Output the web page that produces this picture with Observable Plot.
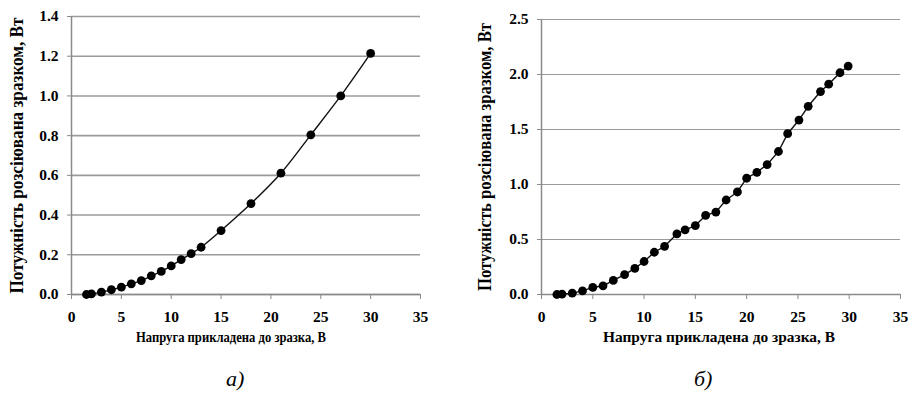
<!DOCTYPE html>
<html>
<head>
<meta charset="utf-8">
<script src="https://cdn.jsdelivr.net/npm/d3@7"></script>
<script src="https://cdn.jsdelivr.net/npm/@observablehq/plot@0.6"></script>
<style>
  html, body { margin: 0; padding: 0; background: #fff; }
  #wrap { position: relative; width: 911px; height: 405px; overflow: hidden; }
  .panel { position: absolute; top: 0; }
  .panel svg, .panel svg text {
    font-family: "Liberation Serif", "Times New Roman", serif !important;
    font-weight: bold;
  }
  .panel svg g[aria-label$="tick label"],
  .panel svg g[aria-label$="tick label"] text {
    font-size: 15.5px !important;
  }
  .caption {
    position: absolute; top: 366px;
    font-family: "Liberation Serif", "DejaVu Serif", serif;
    font-style: italic; font-size: 22px; color: #000;
  }
</style>
</head>
<body>
<div id="wrap">
  <div class="panel" id="panelA" style="left:0px"></div>
  <div class="panel" id="panelB" style="left:450px"></div>
  <div class="caption" style="left:226px">а)</div>
  <div class="caption" style="left:694px">б)</div>
</div>
<script>
// Shared axis ticks
const xTicks = [0, 5, 10, 15, 20, 25, 30, 35];
const yTicksA = [0, 0.2, 0.4, 0.6, 0.8, 1.0, 1.2, 1.4];
const yTicksB = [0, 0.5, 1.0, 1.5, 2.0, 2.5];

// Texts
const xTitle = "Напруга прикладена до зразка, В";
const yTitle = "Потужність розсіювана зразком, Вт";

// Sample (а): applied voltage, V and dissipated power, W
const voltageA = [1.5, 2, 3, 4, 5, 6, 7, 8, 9, 10, 11, 12, 13, 15, 18, 21, 24, 27, 30];
const powerA   = [0.0, 0.003, 0.012, 0.024, 0.037, 0.054, 0.070, 0.094, 0.116, 0.144,
                  0.176, 0.206, 0.238, 0.322, 0.458, 0.611, 0.804, 1.0, 1.214];

// Sample (б)
const voltageB = [1.5, 2, 3, 4, 5, 6, 7, 8.1, 9.1, 10, 11, 12, 13.2, 14, 15, 16, 17, 18, 19.1,
                  20, 21, 22, 23.1, 24, 25.1, 26, 27.2, 28, 29.1, 29.9];
const powerB   = [0.0, 0.003, 0.012, 0.033, 0.064, 0.079, 0.128, 0.18, 0.237, 0.30, 0.384,
                  0.438, 0.551, 0.588, 0.627, 0.719, 0.749, 0.859, 0.932, 1.057, 1.111,
                  1.181, 1.30, 1.462, 1.586, 1.711, 1.845, 1.912, 2.016, 2.077];

const serif = "'Liberation Serif', 'Times New Roman', serif";

function chart({x, y, yTicks, width, marginLeft, marginRight, marginTop, curve, gridWidth,
                titleDx, yTitleDx, yTitleSize, xTitleSize, xTitleLength, yTitleLength}) {
  const data = x.map((v, i) => ({v, p: y[i]}));
  const svg = Plot.plot({
    width,
    height: 350,
    marginLeft,
    marginRight,
    marginTop,
    marginBottom: 56,
    style: {fontFamily: serif, fontSize: "16px", color: "#000", background: "transparent"},
    x: {domain: [0, 35]},
    y: {domain: [0, yTicks[yTicks.length - 1]]},
    marks: [
      Plot.gridY(yTicks, {stroke: "#9a9a9a", strokeOpacity: 1, strokeWidth: gridWidth}),
      Plot.ruleX([0], {stroke: "#8a8a8a", strokeWidth: 1.5}),
      Plot.ruleY([0], {stroke: "#8a8a8a", strokeWidth: 1.5}),
      Plot.axisY({ticks: yTicks, tickFormat: d3.format(".1f"), tickSize: 4, tickPadding: 9,
                  stroke: "#8a8a8a", fill: "#000", label: null, fontFamily: serif}),
      Plot.axisX({ticks: xTicks, tickSize: 5, tickPadding: 11, stroke: "#8a8a8a", fill: "#000",
                  label: null, fontFamily: serif}),
      Plot.line(data, {x: "v", y: "p", curve, stroke: "#111", strokeWidth: 1.4}),
      Plot.dot(data, {x: "v", y: "p", r: 4.4, fill: "#000", stroke: "none"}),
      Plot.text([yTitle], {frameAnchor: "left", textAnchor: "middle", rotate: -90, dx: yTitleDx,
                           fontSize: yTitleSize, fontFamily: serif, fill: "#000", className: "ytitle"}),
      Plot.text([xTitle], {frameAnchor: "bottom", dy: 47, dx: titleDx, fontSize: xTitleSize,
                           fontFamily: serif, fill: "#000", className: "xtitle"})
    ]
  });
  // narrow serif axis titles
  d3.select(svg).selectAll(".xtitle text")
    .attr("textLength", xTitleLength).attr("lengthAdjust", "spacingAndGlyphs");
  d3.select(svg).selectAll(".ytitle text")
    .attr("textLength", yTitleLength).attr("lengthAdjust", "spacingAndGlyphs");
  return svg;
}

document.getElementById("panelA").append(chart({
  x: voltageA, y: powerA, yTicks: yTicksA, width: 450,
  marginLeft: 71, marginRight: 30, marginTop: 16,
  curve: "catmull-rom", gridWidth: 1.6, titleDx: -15, yTitleDx: -54,
  yTitleSize: 18, xTitleSize: 15, xTitleLength: 190, yTitleLength: 276
}));

document.getElementById("panelB").append(chart({
  x: voltageB, y: powerB, yTicks: yTicksB, width: 461,
  marginLeft: 91, marginRight: 11, marginTop: 19,
  curve: "linear", gridWidth: 1.1, titleDx: -2, yTitleDx: -56,
  yTitleSize: 18, xTitleSize: 15.5, xTitleLength: 232, yTitleLength: 268
}));
</script>
</body>
</html>
